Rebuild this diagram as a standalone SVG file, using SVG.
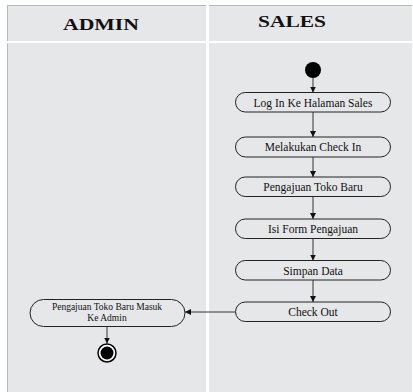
<svg xmlns="http://www.w3.org/2000/svg" width="413" height="392" viewBox="0 0 413 392">
  <defs>
    <marker id="arrow" viewBox="0 0 6 6" refX="6" refY="3" markerWidth="6" markerHeight="6" markerUnits="userSpaceOnUse" orient="auto">
      <path d="M0,0 L6,3 L0,6 Z" fill="#111"/>
    </marker>
    <style>
      .lane { fill: #e6e7e9; }
      .head { font-family: "Liberation Serif", "Times New Roman", serif; font-weight: bold; font-size: 17px; fill: #111; text-anchor: middle; }
      .act rect { fill: #e6e7e9; stroke: #222; stroke-width: 1; }
      .act text { font-family: "Liberation Serif", "Times New Roman", serif; font-size: 11.5px; fill: #111; text-anchor: middle; }
      .small text { font-size: 9.5px; }
      .edge { stroke: #333; stroke-width: 1; fill: none; marker-end: url(#arrow); }
    </style>
  </defs>

  <rect width="413" height="392" fill="#ffffff"/>

  <!-- swimlane frame -->
  <rect x="7" y="5" width="405" height="387" fill="#b8b8b8"/>
  <rect class="lane" x="8" y="6" width="198" height="35"/>
  <rect class="lane" x="209" y="6" width="203" height="35"/>
  <rect class="lane" x="8" y="43.5" width="198" height="348.5"/>
  <rect class="lane" x="209" y="43.5" width="203" height="348.5"/>
  <rect x="206" y="5" width="3" height="387" fill="#ffffff"/>
  <rect x="7" y="41" width="405" height="2.5" fill="#ffffff"/>

  <text class="head" x="101" y="30" textLength="76" lengthAdjust="spacingAndGlyphs">ADMIN</text>
  <text class="head" x="292" y="27" textLength="68" lengthAdjust="spacingAndGlyphs">SALES</text>

  <!-- connectors -->
  <g id="connectors">
    <line class="edge" x1="313" y1="78" x2="313" y2="92.5"/>
    <line class="edge" x1="313" y1="112" x2="313" y2="137"/>
    <line class="edge" x1="313" y1="157" x2="313" y2="177"/>
    <line class="edge" x1="313" y1="196.5" x2="313" y2="219"/>
    <line class="edge" x1="313" y1="238.5" x2="313" y2="260.5"/>
    <line class="edge" x1="313" y1="280" x2="313" y2="302"/>
    <line class="edge" x1="235" y1="312" x2="185" y2="312"/>
    <line class="edge" x1="107" y1="326.5" x2="107" y2="343.5"/>
  </g>

  <!-- nodes -->
  <g id="start">
    <circle cx="313" cy="70" r="8" fill="#000"/>
  </g>
  <g id="login" class="act">
    <rect x="235.5" y="92.5" width="155" height="19.5" rx="9.75"/>
    <text x="313" y="106.5">Log In Ke Halaman Sales</text>
  </g>
  <g id="checkin" class="act">
    <rect x="235.5" y="137" width="155" height="20" rx="10"/>
    <text x="313" y="151">Melakukan Check In</text>
  </g>
  <g id="pengajuan" class="act">
    <rect x="235.5" y="177" width="155" height="19.5" rx="9.75"/>
    <text x="313" y="191">Pengajuan Toko Baru</text>
  </g>
  <g id="isiform" class="act">
    <rect x="235.5" y="219" width="155" height="19.5" rx="9.75"/>
    <text x="313" y="233">Isi Form Pengajuan</text>
  </g>
  <g id="simpan" class="act">
    <rect x="235.5" y="260.5" width="155" height="19.5" rx="9.75"/>
    <text x="313" y="274.5">Simpan Data</text>
  </g>
  <g id="checkout" class="act">
    <rect x="235.5" y="302" width="155" height="19.5" rx="9.75"/>
    <text x="313" y="316">Check Out</text>
  </g>
  <g id="masuk" class="act small">
    <rect x="30" y="299.5" width="155" height="27" rx="13.5"/>
    <text x="107" y="310">Pengajuan Toko Baru Masuk</text>
    <text x="107" y="320.5">Ke Admin</text>
  </g>
  <g id="end">
    <circle cx="107" cy="353" r="9" fill="#ffffff" stroke="#000" stroke-width="1.5"/>
    <circle cx="107" cy="353" r="6.5" fill="#000"/>
  </g>
</svg>
